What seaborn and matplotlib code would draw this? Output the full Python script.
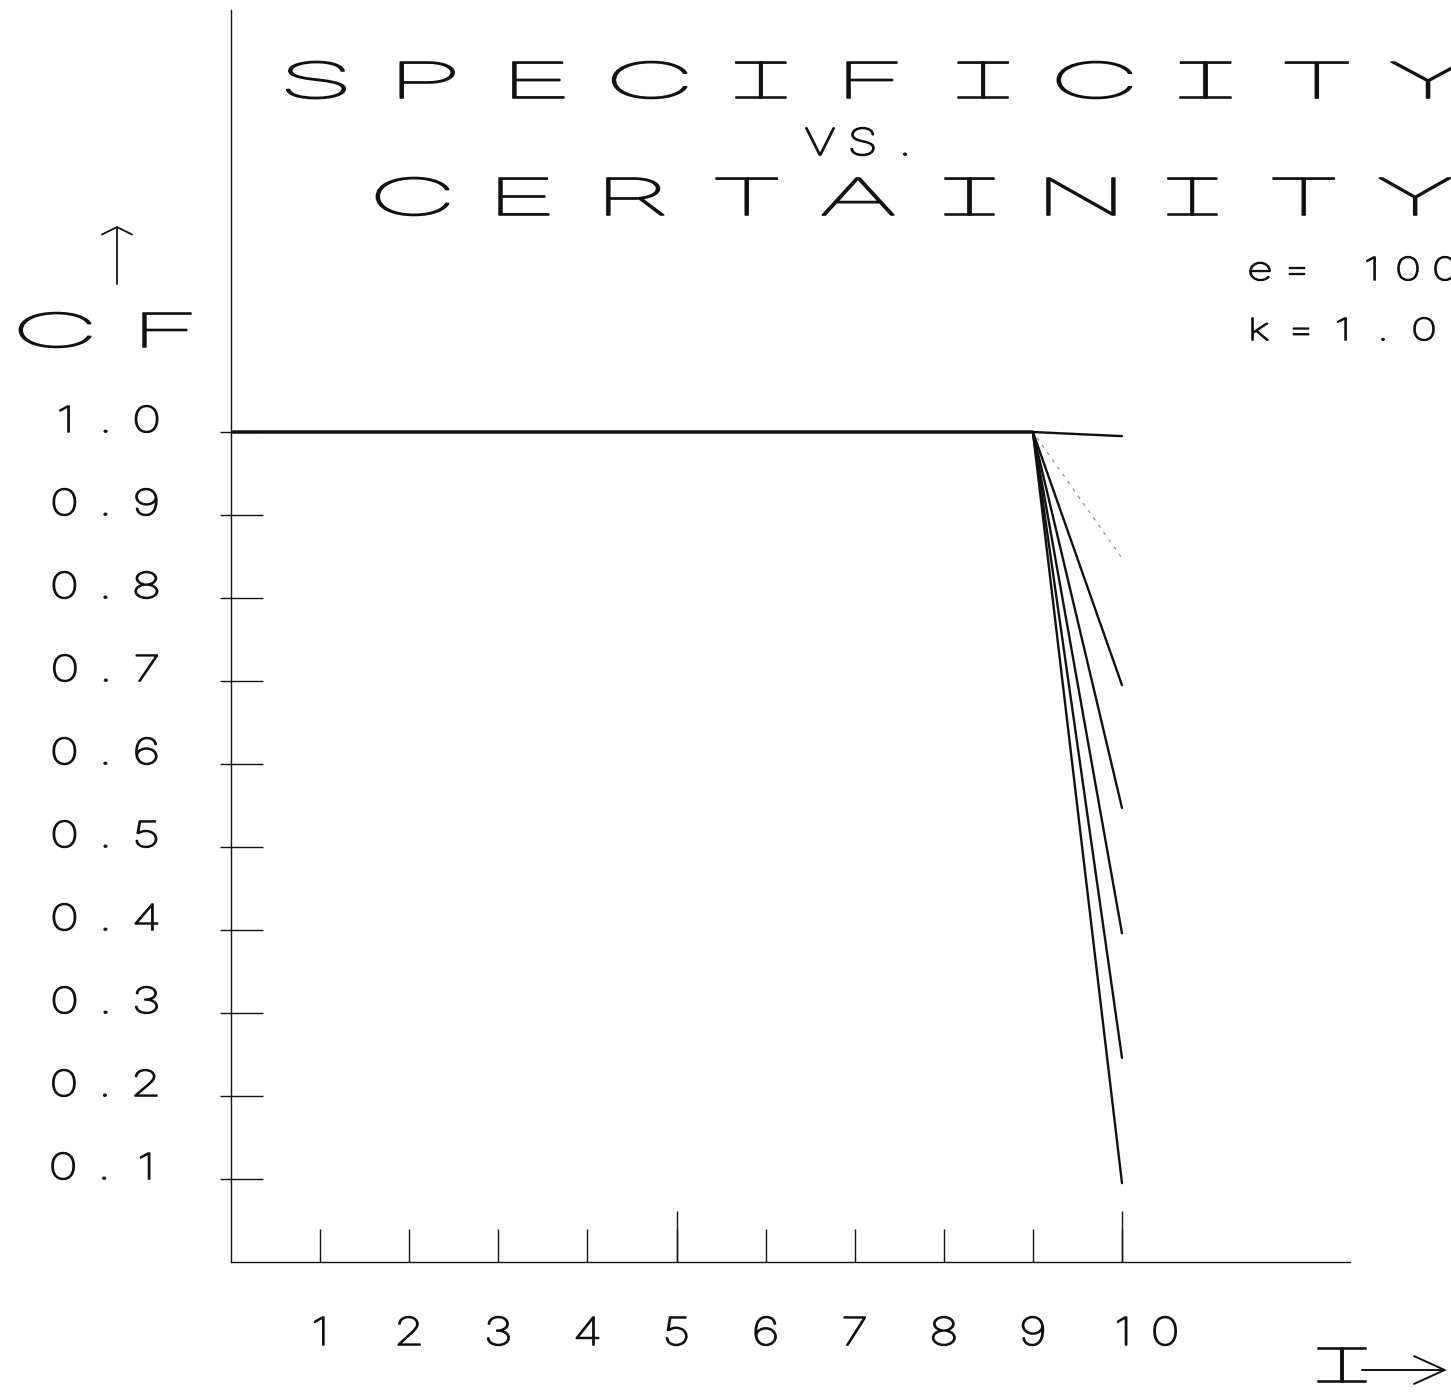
import numpy as np
import pandas as pd
import matplotlib
matplotlib.use("Agg")
import matplotlib.pyplot as plt
import seaborn as sns
from matplotlib import font_manager as fm
from matplotlib.path import Path
from matplotlib.textpath import TextPath
from matplotlib.patheffects import AbstractPathEffect
from matplotlib.patches import FancyArrowPatch

# ---------------- data ----------------
I_STEPS = [0, 1, 2, 3, 4, 5, 6, 7, 8, 9, 10]
CF_CURVE_A = [1.0, 1.0, 1.0, 1.0, 1.0, 1.0, 1.0, 1.0, 1.0, 1.0, 0.995]
CF_CURVE_B = [1.0, 1.0, 1.0, 1.0, 1.0, 1.0, 1.0, 1.0, 1.0, 1.0, 0.695]
CF_CURVE_C = [1.0, 1.0, 1.0, 1.0, 1.0, 1.0, 1.0, 1.0, 1.0, 1.0, 0.547]
CF_CURVE_D = [1.0, 1.0, 1.0, 1.0, 1.0, 1.0, 1.0, 1.0, 1.0, 1.0, 0.396]
CF_CURVE_E = [1.0, 1.0, 1.0, 1.0, 1.0, 1.0, 1.0, 1.0, 1.0, 1.0, 0.246]
CF_CURVE_F = [1.0, 1.0, 1.0, 1.0, 1.0, 1.0, 1.0, 1.0, 1.0, 1.0, 0.095]
CF_CURVE_FAINT = [1.0, 1.0, 1.0, 1.0, 1.0, 1.0, 1.0, 1.0, 1.0, 1.0, 0.848]

X_TICKS = [1, 2, 3, 4, 5, 6, 7, 8, 9, 10]
X_TICK_LABELS = ["1", "2", "3", "4", "5", "6", "7", "8", "9", "10"]
X_LONG_TICKS = [5, 10]
Y_TICKS = [0.1, 0.2, 0.3, 0.4, 0.5, 0.6, 0.7, 0.8, 0.9, 1.0]
Y_TICK_LABELS = ["0.1", "0.2", "0.3", "0.4", "0.5", "0.6", "0.7", "0.8", "0.9", "1.0"]

TITLE_1 = "SPECIFICITY"
TITLE_2 = "VS."
TITLE_3 = "CERTAINITY"
PARAM_E = "e= 100"
PARAM_K = "k=1.0"
Y_LABEL = "CF"
X_LABEL = "I"

# ---------------- figure geometry ----------------
W, H, DPI = 1451, 1393, 100
INK = "#111111"
LW_TEXT = 1.15


def px2pt(px):
    return px * 72.0 / DPI


def fx(px):
    return px / W


def fy(py):
    return 1.0 - py / H


def pick_font_file():
    prefs = ["Lato", "Roboto", "Open Sans", "Inter", "Noto Sans", "DejaVu Sans"]
    suffixes = ["", " Hairline", " Thin", " ExtraLight", " Extra Light", " Light", " UltraLight"]
    best = None
    for f in fm.fontManager.ttflist:
        fam = None
        for i, p in enumerate(prefs):
            if any(f.name == p + s for s in suffixes):
                fam = i
                break
        if fam is None or f.style != "normal":
            continue
        w = f.weight
        if not isinstance(w, (int, float)):
            w = fm.weight_dict.get(str(w), 400)
        key = (w, fam)
        if best is None or key < best[0]:
            best = (key, f.fname)
    return best[1] if best else None


_ff = pick_font_file()
FP_BASE = fm.FontProperties(fname=_ff) if _ff else fm.FontProperties(family="DejaVu Sans")
_h = TextPath((0, 0), "H", size=100, prop=FP_BASE).get_extents()
_o = TextPath((0, 0), "O", size=100, prop=FP_BASE).get_extents()
CAP_U = _h.height
O_U = _o.width


def _glyph(ch, prop):
    tp = TextPath((0, 0), ch, size=100, prop=prop)
    v = np.array(tp.vertices, dtype=float)
    c = tp.codes
    if c is None:
        c = np.full(len(v), Path.LINETO, dtype=np.uint8)
        if len(c):
            c[0] = Path.MOVETO
    return v, c


class PlotterLettering(AbstractPathEffect):
    """Draws the text of an artist as widely spaced, horizontally stretched
    glyphs on a fixed pitch, imitating pen-plotter lettering (with a
    barred capital I as the plotter drew it)."""

    def __init__(self, artist, pitch, sx, anchor="left", lw=LW_TEXT, i_scale=0.8):
        super().__init__()
        self.artist = artist
        self.pitch = pitch
        self.sx = sx
        self.anchor = anchor
        self.lw = lw
        self.i_scale = i_scale

    def draw_path(self, renderer, gc, tpath, affine, rgbFace=None):
        s = self.artist.get_text()
        prop = self.artist.get_fontproperties()
        ext = tpath.get_extents()
        n = len(s)
        P = self.pitch
        if self.anchor == "left":
            x0 = 0.0
        elif self.anchor == "right":
            x0 = ext.x1 - n * P
        elif self.anchor == "first":
            x0 = 0.5 * (ext.x0 + ext.x1) - 0.5 * P
        else:
            x0 = 0.5 * (ext.x0 + ext.x1) - 0.5 * n * P
        normal, mirrored = [], []
        for j, ch in enumerate(s):
            if not ch.strip():
                continue
            barred = ch == "I"
            v, c = _glyph("T" if barred else ch, prop)
            if len(v) == 0:
                continue
            keep = c != Path.CLOSEPOLY
            lo, hi = v[keep, 0].min(), v[keep, 0].max()
            k = self.sx * (self.i_scale if barred else 1.0)
            v[:, 0] = x0 + (j + 0.5) * P + k * (v[:, 0] - 0.5 * (lo + hi))
            normal.append(Path(v, c))
            if barred:
                ylo, yhi = v[keep, 1].min(), v[keep, 1].max()
                vm = v.copy()
                vm[:, 1] = ylo + yhi - vm[:, 1]
                mirrored.append(Path(vm, c))
        gc0 = renderer.new_gc()
        gc0.copy_properties(gc)
        gc0.set_linewidth(self.lw)
        gc0.set_joinstyle("round")
        gc0.set_capstyle("round")
        for group in (normal, mirrored):
            if group:
                renderer.draw_path(gc0, Path.make_compound_path(*group), affine, rgbFace)
        gc0.restore()


def lettering(cap_px, width_px, pitch_px):
    fs_px = cap_px / CAP_U * 100.0
    fp = FP_BASE.copy()
    fp.set_size(fs_px * 72.0 / DPI)
    sx = width_px / (O_U * fs_px / 100.0)
    pitch_u = pitch_px / fs_px * 100.0
    return fp, pitch_u, sx


def style_text(t, cap_px, width_px, pitch_px, anchor, i_scale=0.8):
    fp, pitch_u, sx = lettering(cap_px, width_px, pitch_px)
    t.set_fontproperties(fp)
    t.set_color(INK)
    t.set_path_effects([PlotterLettering(t, pitch_u, sx, anchor, i_scale=i_scale)])
    return t


# ---------------- plot ----------------
sns.set_theme(style="white")
fig = plt.figure(figsize=(W / DPI, H / DPI), dpi=DPI)
fig.patch.set_facecolor("white")

ax_left, ax_right = 231, 1350
ax_bottom, ax_top = 1262, 10
ax = fig.add_axes([fx(ax_left), fy(ax_bottom), (ax_right - ax_left) / W, (ax_bottom - ax_top) / H])
ax.set_facecolor("white")

curves = {
    "A": CF_CURVE_A, "B": CF_CURVE_B, "C": CF_CURVE_C,
    "D": CF_CURVE_D, "E": CF_CURVE_E, "F": CF_CURVE_F,
}
df = pd.DataFrame(
    [(k, i, v) for k, vals in curves.items() for i, v in zip(I_STEPS, vals)],
    columns=["curve", "I", "CF"],
)
sns.lineplot(data=df, x="I", y="CF", units="curve", estimator=None, sort=False,
             color=INK, linewidth=1.7, ax=ax, legend=False)
sns.lineplot(x=I_STEPS, y=CF_CURVE_FAINT, color=INK, linewidth=0.8, alpha=0.5,
             linestyle=(0, (3, 5)), sort=False, ax=ax, legend=False)

px_per_unit_x = 89.1
px_per_unit_y = 830.0
ax.set_xlim(0, (ax_right - ax_left) / px_per_unit_x)
ax.set_ylim(0, (ax_bottom - ax_top) / px_per_unit_y)

for side in ("top", "right"):
    ax.spines[side].set_visible(False)
for side in ("left", "bottom"):
    ax.spines[side].set_color(INK)
    ax.spines[side].set_linewidth(1.0)

ax.set_xticks(X_TICKS, labels=X_TICK_LABELS)
ax.set_xticks(X_LONG_TICKS, minor=True)
ax.set_yticks(Y_TICKS, labels=Y_TICK_LABELS)
ax.set_yticks(Y_TICKS, minor=True)
ax.xaxis.remove_overlapping_locs = False
ax.yaxis.remove_overlapping_locs = False

ax.tick_params(axis="x", which="major", direction="in", length=px2pt(33), width=1.0,
               color=INK, pad=px2pt(83), bottom=True)
ax.tick_params(axis="x", which="minor", direction="in", length=px2pt(51), width=1.0,
               color=INK, bottom=True)
ax.tick_params(axis="y", which="major", direction="in", length=px2pt(32), width=1.0,
               color=INK, pad=px2pt(61.5), left=True)
ax.tick_params(axis="y", which="minor", direction="out", length=px2pt(11), width=1.0,
               color=INK, left=True)

for lab in ax.get_xticklabels():
    lab.set_verticalalignment("baseline")
    style_text(lab, 28, 30, 43, "first")
for lab in ax.get_yticklabels():
    lab.set_verticalalignment("baseline")
    lab.set_horizontalalignment("right")
    style_text(lab, 26, 30, 41, "right")

# axis labels
ylab = ax.set_ylabel(Y_LABEL, rotation=0, ha="left", va="baseline")
ax.yaxis.set_label_coords((-1 - ax_left) / (ax_right - ax_left),
                          (ax_bottom - 347) / (ax_bottom - ax_top))
style_text(ylab, 34, 74, 112, "left")

xlab = ax.set_xlabel(X_LABEL, ha="center", va="baseline")
ax.xaxis.set_label_coords((1342 - ax_left) / (ax_right - ax_left),
                          (ax_bottom - 1382) / (ax_bottom - ax_top))
style_text(xlab, 34, 60, 60, "center", i_scale=1.0)

# arrows accompanying the axis labels
fig.add_artist(FancyArrowPatch((fx(117), fy(284)), (fx(117), fy(226)),
                               transform=fig.transFigure,
                               arrowstyle="->,head_length=0.3,head_width=0.6",
                               mutation_scale=18, color=INK, linewidth=1.3,
                               shrinkA=0, shrinkB=0))
fig.add_artist(FancyArrowPatch((fx(1362), fy(1370)), (fx(1447), fy(1370)),
                               transform=fig.transFigure,
                               arrowstyle="->,head_length=1.1,head_width=0.5",
                               mutation_scale=20, color=INK, linewidth=1.4,
                               shrinkA=0, shrinkB=0))

# title block
t1 = fig.text(fx(260.4), fy(98), TITLE_1, ha="left", va="baseline")
style_text(t1, 36, 77, 111.2, "left")
t2 = fig.text(fx(798.8), fy(155), TITLE_2, ha="left", va="baseline")
style_text(t2, 27, 30, 42.5, "left")
t3 = fig.text(fx(356.8), fy(215), TITLE_3, ha="left", va="baseline")
style_text(t3, 37, 75, 111.4, "left")
t4 = fig.text(fx(1241.5), fy(280), PARAM_E, ha="left", va="baseline")
style_text(t4, 23, 27, 37, "left")
t5 = fig.text(fx(1239.5), fy(340), PARAM_K, ha="left", va="baseline")
style_text(t5, 22, 27, 41, "left")

fig.savefig("out.png", dpi=DPI, facecolor="white")
